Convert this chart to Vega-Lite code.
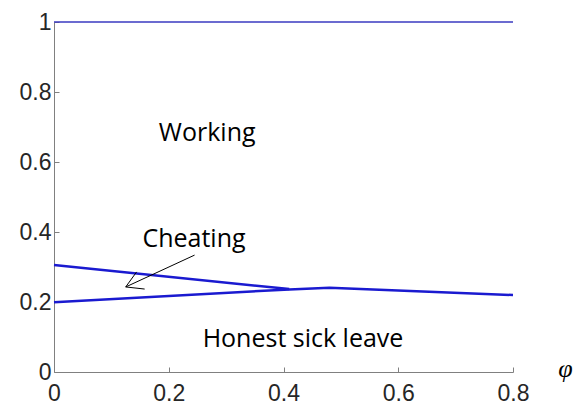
{
  "$schema": "https://vega.github.io/schema/vega-lite/v6.json",
  "width": 459,
  "height": 350,
  "autosize": {"type": "none"},
  "padding": {"left": 54, "top": 22, "right": 66, "bottom": 36},
  "background": "white",
  "config": {
    "view": {"stroke": null},
    "axis": {
      "grid": false,
      "domainColor": "#808080",
      "tickColor": "#808080",
      "tickSize": -5,
      "labelColor": "#262626",
      "labelFont": "Liberation Sans",
      "labelFontSize": 23,
      "labelFlush": false,
      "labelOverlap": false,
      "format": "~g"
    }
  },
  "datasets": {
    "lines": [
      {"series": "top", "phi": 0, "v": 1},
      {"series": "top", "phi": 0.8, "v": 1},
      {"series": "upper", "phi": 0, "v": 0.306},
      {"series": "upper", "phi": 0.41, "v": 0.237},
      {"series": "lower", "phi": 0, "v": 0.199},
      {"series": "lower", "phi": 0.41, "v": 0.236},
      {"series": "lower", "phi": 0.48, "v": 0.241},
      {"series": "lower", "phi": 0.8, "v": 0.22}
    ],
    "arrow": [
      {"x1": 0.245, "y1": 0.334, "x2": 0.125, "y2": 0.243},
      {"x1": 0.144, "y1": 0.286, "x2": 0.125, "y2": 0.243},
      {"x1": 0.158, "y1": 0.237, "x2": 0.125, "y2": 0.243}
    ],
    "labels": [
      {"text": "Working", "phi": 0.267, "v": 0.66},
      {"text": "Cheating", "phi": 0.244, "v": 0.358},
      {"text": "Honest sick leave", "phi": 0.434, "v": 0.072}
    ]
  },
  "layer": [
    {
      "data": {"name": "lines"},
      "transform": [{"filter": "datum.series === 'top'"}],
      "mark": {"type": "line", "color": "#3a3ac0", "strokeWidth": 1.6},
      "encoding": {
        "x": {
          "field": "phi", "type": "quantitative",
          "scale": {"domain": [0, 0.8], "nice": false},
          "axis": {
            "values": [0, 0.2, 0.4, 0.6, 0.8],
            "labelPadding": 15,
            "title": "φ",
            "titleFont": "Liberation Serif",
            "titleFontStyle": "italic",
            "titleFontWeight": "normal",
            "titleFontSize": 26,
            "titleColor": "black",
            "titleX": 511,
            "titleY": -4,
            "titleAlign": "center",
            "titleBaseline": "middle"
          }
        },
        "y": {
          "field": "v", "type": "quantitative",
          "scale": {"domain": [0, 1], "nice": false},
          "axis": {"values": [0, 0.2, 0.4, 0.6, 0.8, 1], "labelPadding": 8, "title": null}
        }
      }
    },
    {
      "data": {"name": "lines"},
      "transform": [{"filter": "datum.series !== 'top'"}],
      "mark": {"type": "line", "color": "#1a1ad0", "strokeWidth": 2.5},
      "encoding": {
        "x": {"field": "phi", "type": "quantitative"},
        "y": {"field": "v", "type": "quantitative"},
        "detail": {"field": "series"}
      }
    },
    {
      "data": {"name": "arrow"},
      "mark": {"type": "rule", "color": "black", "strokeWidth": 1},
      "encoding": {
        "x": {"field": "x1", "type": "quantitative"},
        "y": {"field": "y1", "type": "quantitative"},
        "x2": {"field": "x2"},
        "y2": {"field": "y2"}
      }
    },
    {
      "data": {"name": "labels"},
      "mark": {"type": "text", "font": "Open Sans", "fontSize": 25, "color": "black", "align": "center", "baseline": "alphabetic"},
      "encoding": {
        "x": {"field": "phi", "type": "quantitative"},
        "y": {"field": "v", "type": "quantitative"},
        "text": {"field": "text"}
      }
    }
  ]
}
